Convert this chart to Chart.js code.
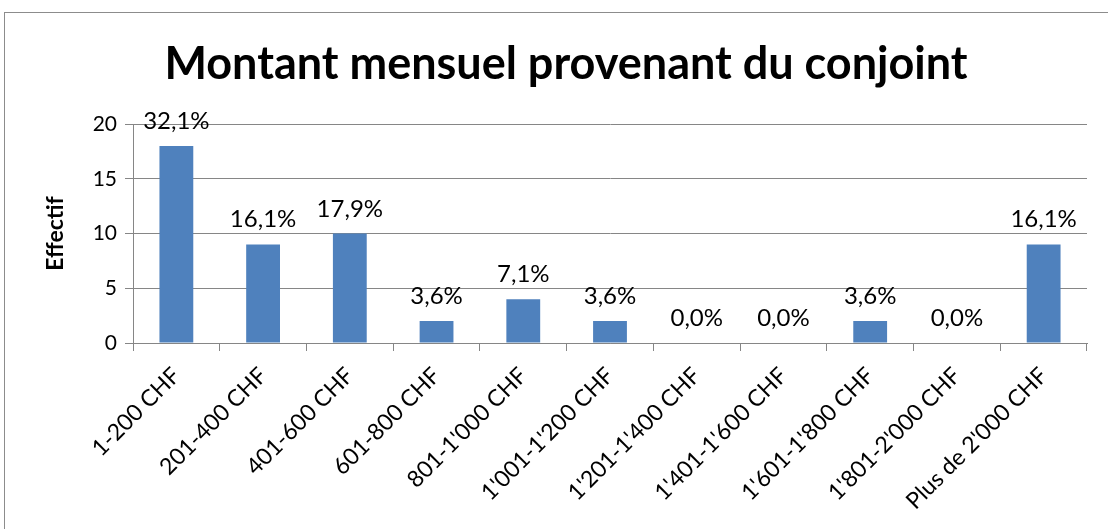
<!DOCTYPE html>
<html>
<head>
<meta charset="utf-8">
<script src="https://cdn.jsdelivr.net/npm/chart.js@4"></script>
<style>
  html, body { margin: 0; padding: 0; background: #fff; overflow: hidden; }
  .frame { position: absolute; left: 4px; top: 12px; width: 1300px; height: 700px;
           border-left: 1px solid #8c8c8c; border-top: 1px solid #8c8c8c; }
  .wrap { position: absolute; left: 0; top: 0; width: 1108px; height: 529px; }
</style>
</head>
<body>
<div class="frame"></div>
<div class="wrap"><canvas id="chart" width="1108" height="529"></canvas></div>
<script>
// Data
const categories = ["1-200 CHF", "201-400 CHF", "401-600 CHF", "601-800 CHF", "801-1'000 CHF",
  "1'001-1'200 CHF", "1'201-1'400 CHF", "1'401-1'600 CHF", "1'601-1'800 CHF", "1'801-2'000 CHF",
  "Plus de 2'000 CHF"];
const counts = [18, 9, 10, 2, 4, 2, 0, 0, 2, 0, 9];
const percentLabels = ["32,1%", "16,1%", "17,9%", "3,6%", "7,1%", "3,6%", "0,0%", "0,0%", "3,6%", "0,0%", "16,1%"];
const yTicks = [0, 5, 10, 15, 20];

const chartTitle = "Montant mensuel provenant du conjoint";
const fontFamily = "Lato, 'Open Sans', sans-serif";
const gridColor = "#868686";

// Title and value labels drawn on top of the chart
const labelsPlugin = {
  id: "labels",
  afterDatasetsDraw(chart) {
    const ctx = chart.ctx;
    ctx.save();
    ctx.fillStyle = "#000";
    ctx.textAlign = "center";
    ctx.textBaseline = "alphabetic";
    ctx.font = "bold 45px " + fontFamily;
    ctx.fillText(chartTitle, 566, 79);

    ctx.font = "24px " + fontFamily;
    const meta = chart.getDatasetMeta(0);
    meta.data.forEach((bar, i) => {
      ctx.fillText(percentLabels[i], bar.x, bar.y - 17);
    });
    ctx.restore();
  }
};

new Chart(document.getElementById("chart"), {
  type: "bar",
  data: {
    labels: categories,
    datasets: [{
      data: counts,
      backgroundColor: "#4F81BD",
      barPercentage: 0.39,
      categoryPercentage: 1
    }]
  },
  options: {
    responsive: false,
    animation: false,
    layout: { padding: { top: 124, right: 21, bottom: 0, left: 0 } },
    plugins: {
      legend: { display: false },
      title: { display: false },
      tooltip: { enabled: false }
    },
    scales: {
      x: {
        grid: { display: true, drawOnChartArea: false, drawTicks: true, tickLength: 8, color: gridColor, offset: true },
        border: { display: true, color: gridColor },
        ticks: {
          autoSkip: false, maxRotation: 45, minRotation: 45, padding: 11,
          color: "#000", font: { family: fontFamily, size: 23 }
        },
        afterFit(scale) { scale.height = 186; }
      },
      y: {
        min: 0, max: 20,
        afterBuildTicks(scale) { scale.ticks = yTicks.map(v => ({ value: v })); },
        grid: { color: gridColor, tickLength: 8 },
        border: { display: true, color: gridColor },
        ticks: { padding: 8, color: "#000", font: { family: fontFamily, size: 21 } },
        title: {
          display: true, text: "Effectif", color: "#000",
          font: { family: fontFamily, size: 23, weight: "bold" },
          padding: { top: 42, bottom: 0 }
        },
        afterFit(scale) { scale.width = 133; }
      }
    }
  },
  plugins: [labelsPlugin]
});
</script>
</body>
</html>
